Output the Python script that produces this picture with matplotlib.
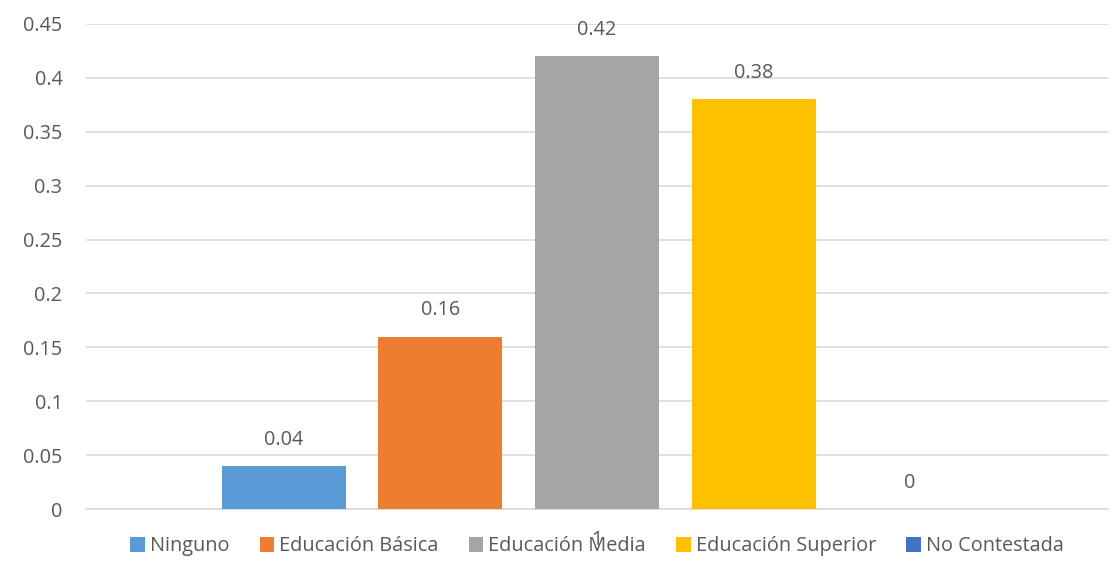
import matplotlib.pyplot as plt
import numpy as np

plt.rcParams['font.family'] = ['Open Sans', 'DejaVu Sans']

categories = ["1"]
series = ["Ninguno", "Educación Básica", "Educación Media", "Educación Superior", "No Contestada"]
values = [0.04, 0.16, 0.42, 0.38, 0]
labels = ["0.04", "0.16", "0.42", "0.38", "0"]
colors = ["#5B9BD5", "#ED7D31", "#A5A5A5", "#FFC000", "#4472C4"]
yticks = [0, 0.05, 0.1, 0.15, 0.2, 0.25, 0.3, 0.35, 0.4, 0.45]
ytick_labels = ["0", "0.05", "0.1", "0.15", "0.2", "0.25", "0.3", "0.35", "0.4", "0.45"]

text_color = "#595959"
grid_color = "#D9D9D9"
fs = 14.3

fig = plt.figure(figsize=(11.16, 5.7), dpi=100)
ax = fig.add_axes([0.0771, 0.107, 0.9157, 0.851])

bar_w = 0.1213
step = 0.1532
n = len(series)
for i, (name, v, lab, c) in enumerate(zip(series, values, labels, colors)):
    x = (i - (n - 1) / 2) * step
    ax.bar(x, v, width=bar_w, color=c, label=name, zorder=3)
    ax.annotate(lab, (x, v), xytext=(0, 19), textcoords="offset points",
                ha="center", va="center", fontsize=fs, color=text_color)

ax.set_xlim(-0.5, 0.5)
ax.set_ylim(0, 0.45)
ax.set_yticks(yticks)
ax.set_yticklabels(ytick_labels)
ax.set_xticks([0])
ax.set_xticklabels(categories)
ax.tick_params(axis="y", length=0, pad=17, labelsize=fs, labelcolor=text_color)
ax.tick_params(axis="x", length=0, pad=15, labelsize=fs, labelcolor=text_color)
ax.grid(axis="y", color=grid_color, linewidth=1.2, zorder=0)
for side in ["top", "right", "left"]:
    ax.spines[side].set_visible(False)
ax.spines["bottom"].set_color(grid_color)
ax.spines["bottom"].set_linewidth(1.2)

ax.legend(loc="center", bbox_to_anchor=(0.5, -0.077), ncol=5, frameon=False,
          fontsize=fs, labelcolor=text_color, handlelength=0.75, handleheight=0.75,
          handletextpad=0.25, columnspacing=1.5)

fig.savefig("out.png", dpi=100)
